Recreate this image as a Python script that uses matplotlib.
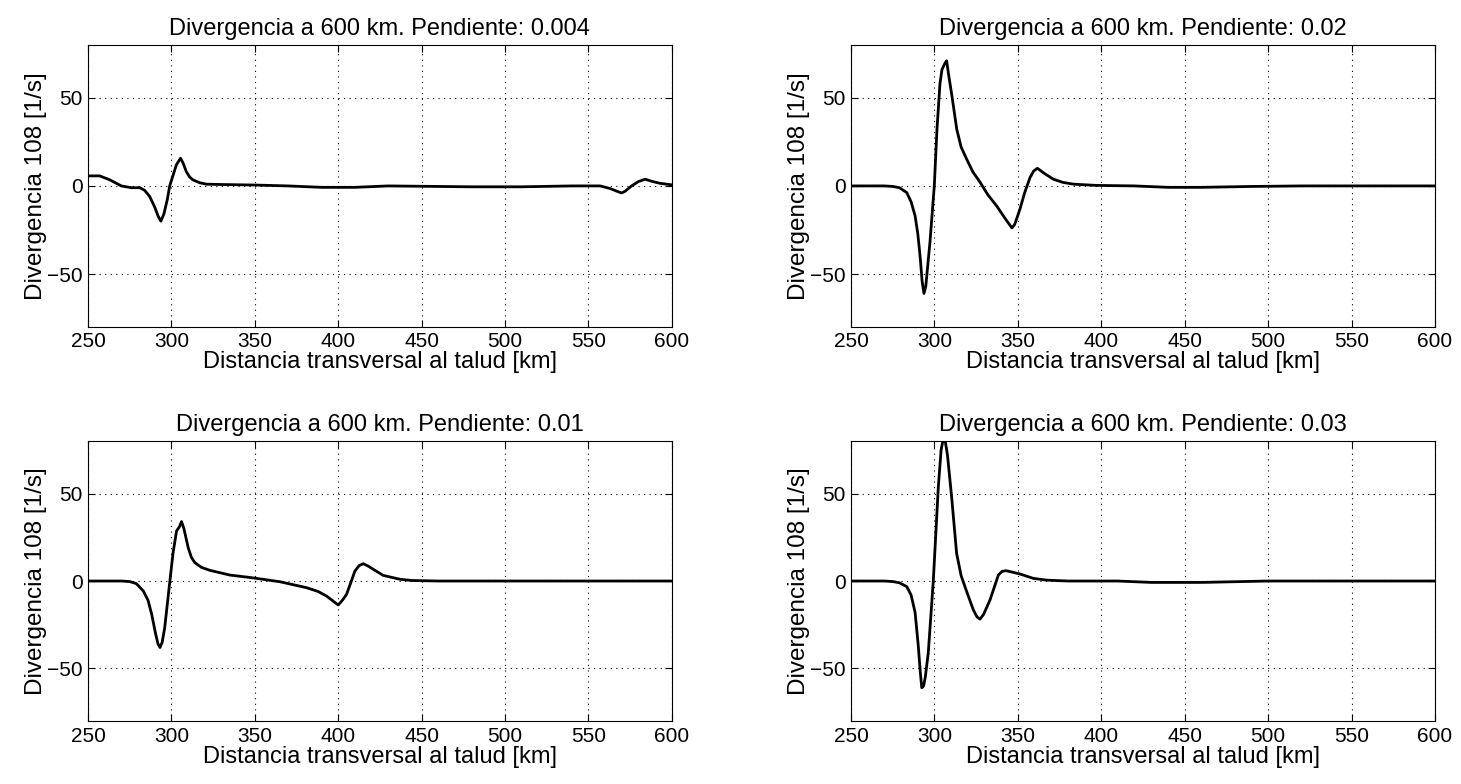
import matplotlib
matplotlib.use("Agg")
import matplotlib.pyplot as plt

plt.rcParams["font.family"] = ["Liberation Sans", "DejaVu Sans"]

# Pendiente 0.004
x_004 = [250, 257, 263, 270, 276, 281, 284, 287, 290, 292, 293.7, 295.5, 297.5, 299, 301, 303, 305.5,
         307, 309, 311, 313, 317, 321, 330, 350, 370, 390, 410, 430, 480, 510, 540, 557, 563, 567,
         569.8, 572, 575.8, 580, 584, 588, 592.8, 600]
y_004 = [5.7, 5.7, 3.5, 0, -1, -1, -2.5, -6, -12, -17, -20, -16, -8, 0, 6, 12, 15.7,
         13, 8, 5, 3.4, 1.8, 1, 0.8, 0.5, 0, -0.8, -0.8, 0, -0.5, -0.5, 0, 0, -1.5, -3,
         -4, -3, 0, 2.5, 3.8, 2.6, 1.5, 0.6]

# Pendiente 0.02
x_02 = [250, 270, 275, 279, 283.4, 286, 288.4, 290, 291.4, 292.6, 293.7, 294.8, 296, 297.3, 299.9, 301.5,
        303.3, 304.5, 305.5, 306.5, 307.3, 308.5, 310.4, 313.4, 316, 319.4, 323, 327.4, 332, 337.4, 342,
        346.4, 348, 349.5, 351.3, 354, 357.3, 359.5, 361.7, 366, 371.3, 377, 383.3, 397, 420, 440, 460,
        490, 520, 600]
y_02 = [0, 0, -0.3, -1, -3.8, -9, -17, -27, -40, -54, -61, -57, -45, -32, 0, 32,
        58, 66, 68, 70, 71, 63, 51.5, 32, 22, 15, 8, 2, -5, -11.5, -18,
        -23.8, -22, -18, -13, -4, 4.8, 8.5, 10, 7, 3.8, 2, 1, 0.3, 0, -0.8, -0.8,
        -0.3, 0, 0]

# Pendiente 0.01
x_01 = [250, 270, 275, 279, 283.2, 286, 288.2, 290.5, 292, 293.2, 294.5, 296, 299.1, 301, 303.1, 304.8,
        306.1, 307.5, 310.1, 312, 314.1, 318, 323.1, 335.1, 348.1, 365, 381, 388, 393, 397, 400, 402.5,
        405, 407.5, 410, 412.5, 415, 418, 421, 427, 437, 444, 460, 600]
y_01 = [0, 0, -0.3, -1.5, -5.7, -11, -19, -30, -36, -38, -35, -26.7, 0, 16, 28.6, 31,
        34, 30, 19, 13.5, 10.5, 7.8, 6.1, 3.4, 1.9, -0.4, -3.8, -6, -8.6, -11.5, -13.7, -11,
        -7.6, -1, 5.7, 8.8, 9.9, 8.5, 6.7, 3.2, 1, 0.3, 0, 0]

# Pendiente 0.03
x_03 = [250, 270, 275, 279, 283.4, 286, 288.4, 290.3, 291.5, 292.4, 293.5, 294.5, 296.3, 299.3, 302.3,
        304, 305.8, 307.8, 310.3, 313.3, 316, 319.3, 323.3, 325.5, 327.3, 329.5, 333.3, 338.3, 340.5,
        342.9, 347, 351.3, 359.3, 367.3, 380, 410, 430, 460, 480, 500, 600]
y_03 = [0, 0, -0.3, -1, -3.2, -8, -18, -37, -52, -61, -60, -55, -41, 0, 53.6,
        75, 84, 72, 48, 15.7, 3, -6, -16.5, -20.5, -21.8, -19, -10.8, 3.4, 5.5,
        5.9, 5, 4, 1.5, 0.5, 0, 0, -0.8, -0.8, -0.4, 0, 0]

titles = ["Divergencia a 600 km. Pendiente: 0.004", "Divergencia a 600 km. Pendiente: 0.02",
          "Divergencia a 600 km. Pendiente: 0.01", "Divergencia a 600 km. Pendiente: 0.03"]
series = [(x_004, y_004), (x_02, y_02), (x_01, y_01), (x_03, y_03)]
x_ticks = [250, 300, 350, 400, 450, 500, 550, 600]
y_ticks = [-50, 0, 50]

fig = plt.figure(figsize=(14.61, 7.84), dpi=100)
positions = [
    [0.0602, 0.583, 0.3997, 0.3597],
    [0.5825, 0.583, 0.3997, 0.3597],
    [0.0602, 0.0804, 0.3997, 0.357],
    [0.5825, 0.0804, 0.3997, 0.357],
]

for pos, (x, y), title in zip(positions, series, titles):
    ax = fig.add_axes(pos)
    ax.plot(x, y, color="black", linewidth=2.0)
    ax.set_xlim(250, 600)
    ax.set_ylim(-80, 80)
    ax.set_xticks(x_ticks)
    ax.set_yticks(y_ticks)
    ax.grid(True, color="black", linestyle=(0, (1, 4)), linewidth=0.8)
    ax.tick_params(direction="in", labelsize=15, length=5, top=True, right=True,
                   labeltop=False, labelright=False, pad=4)
    ax.set_title(title, fontsize=17, pad=7)
    ax.set_xlabel("Distancia transversal al talud [km]", fontsize=17, labelpad=0)
    ax.set_ylabel("Divergencia 108 [1/s]", fontsize=17.5, labelpad=0)
    for s in ax.spines.values():
        s.set_linewidth(0.8)

fig.savefig("out.png", dpi=100)
